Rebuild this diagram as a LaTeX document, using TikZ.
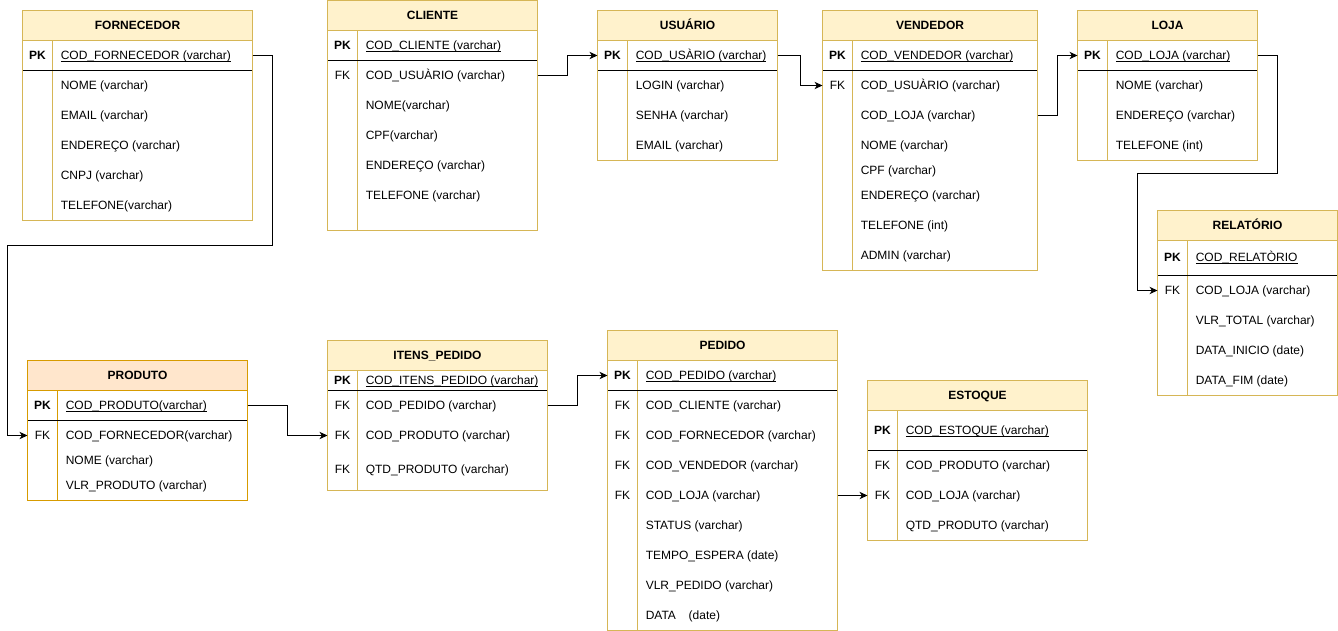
\documentclass[tikz,border=0pt]{standalone}
\usepackage{fontspec}
\setmainfont{Liberation Sans}
\usetikzlibrary{arrows.meta,fit}

\definecolor{tbord}{HTML}{D6B656}
\definecolor{tfill}{HTML}{FFF2CC}
\definecolor{pbord}{HTML}{D79B00}
\definecolor{pfill}{HTML}{FFE6CC}

% underlined primary-key text, rule sitting just under the baseline
\newcommand{\pkul}[1]{\setbox0\hbox{#1}\rlap{\rule[-1.5pt]{\wd0}{0.6pt}}\box0}
\newcommand{\pkey}{\textbf{PK}}

% table frame: name, x1, y1, x2, y2, header bottom, key rule, divider x, title
\newcommand{\ertable}[9]{%
  \node[fit={(#2,#3) (#4,#5)}, inner sep=0pt, outer sep=0pt] (#1) {};
  \fill[hdrfill] (#2,#3) rectangle (#4,#6);
  \draw[tblline] (#2,#6) -- (#4,#6) (#8,#6) -- (#8,#5);
  \draw[pkline] (#2,#7) -- (#4,#7);
  \draw[tblline] (#2,#3) rectangle (#4,#5);
  \node[titletext] (#1-title) at ({(#2+#4)/2},{(#3+#6)/2}) {#9};
  \pgfmathsetmacro\keyx{(#2+#8)/2}%
  \pgfmathsetmacro\fldx{#8+8}%
}
% one row: node name, y, key label, field text
\newcommand{\fld}[4]{%
  \node[keytext] (#1-key) at (\keyx,#2) {#3};
  \node[fldtext] (#1) at (\fldx,#2) {#4};%
}

\begin{document}
\begin{tikzpicture}[x=0.75pt, y=-0.75pt,
  tblline/.style={draw=tbord, line width=0.75pt},
  hdrfill/.style={fill=tfill},
  pkline/.style={draw=black, line width=0.75pt},
  titletext/.style={inner sep=0pt, text height=6.2pt, text depth=0pt,
    font=\fontsize{9}{11}\selectfont\bfseries},
  keytext/.style={inner sep=0pt, text height=6.2pt, text depth=0pt,
    font=\fontsize{9}{11}\selectfont},
  fldtext/.style={anchor=west, inner sep=0pt, text height=6.2pt, text depth=0pt,
    font=\fontsize{9}{11}\selectfont},
  conn/.style={draw=black, line width=0.75pt,
    -{Stealth[length=6pt, width=5.5pt, inset=1.8pt]}}]

\useasboundingbox (0,0) rectangle (1338,631);

% half-unit shift keeps the thin rules on whole pixels
\begin{scope}[shift={(0.5,0.5)}]

% FORNECEDOR
\ertable{forn}{22}{10}{252}{220}{40}{70}{52}{FORNECEDOR}
\fld{forn-pk}{55}{\pkey}{\pkul{COD\_FORNECEDOR (varchar)}}
\fld{forn-f1}{85}{}{NOME (varchar)}
\fld{forn-f2}{115}{}{EMAIL (varchar)}
\fld{forn-f3}{145}{}{ENDEREÇO (varchar)}
\fld{forn-f4}{175}{}{CNPJ (varchar)}
\fld{forn-f5}{205}{}{TELEFONE(varchar)}

% CLIENTE
\ertable{cli}{327}{0}{537}{230}{30}{60}{357}{CLIENTE}
\fld{cli-pk}{45}{\pkey}{\pkul{COD\_CLIENTE (varchar)}}
\fld{cli-f1}{75}{FK}{COD\_USUÀRIO (varchar)}
\fld{cli-f2}{105}{}{NOME(varchar)}
\fld{cli-f3}{135}{}{CPF(varchar)}
\fld{cli-f4}{165}{}{ENDEREÇO (varchar)}
\fld{cli-f5}{195}{}{TELEFONE (varchar)}

% USUARIO
\ertable{usu}{597}{10}{777}{160}{40}{70}{627}{USUÁRIO}
\fld{usu-pk}{55}{\pkey}{\pkul{COD\_USÀRIO (varchar)}}
\fld{usu-f1}{85}{}{LOGIN (varchar)}
\fld{usu-f2}{115}{}{SENHA (varchar)}
\fld{usu-f3}{145}{}{EMAIL (varchar)}

% VENDEDOR
\ertable{vend}{822}{10}{1037}{270}{40}{70}{852}{VENDEDOR}
\fld{vend-pk}{55}{\pkey}{\pkul{COD\_VENDEDOR (varchar)}}
\fld{vend-f1}{85}{FK}{COD\_USUÀRIO (varchar)}
\fld{vend-f2}{115}{}{COD\_LOJA (varchar)}
\fld{vend-f3}{145}{}{NOME (varchar)}
\fld{vend-f4}{170}{}{CPF (varchar)}
\fld{vend-f5}{195}{}{ENDEREÇO (varchar)}
\fld{vend-f6}{225}{}{TELEFONE (int)}
\fld{vend-f7}{255}{}{ADMIN (varchar)}

% LOJA
\ertable{loja}{1077}{10}{1257}{160}{40}{70}{1107}{LOJA}
\fld{loja-pk}{55}{\pkey}{\pkul{COD\_LOJA (varchar)}}
\fld{loja-f1}{85}{}{NOME (varchar)}
\fld{loja-f2}{115}{}{ENDEREÇO (varchar)}
\fld{loja-f3}{145}{}{TELEFONE (int)}

% RELATORIO
\ertable{rel}{1157}{210}{1337}{395}{240}{275}{1187}{RELATÓRIO}
\fld{rel-pk}{257}{\pkey}{\pkul{COD\_RELATÒRIO}}
\fld{rel-f1}{290}{FK}{COD\_LOJA (varchar)}
\fld{rel-f2}{320}{}{VLR\_TOTAL (varchar)}
\fld{rel-f3}{350}{}{DATA\_INICIO (date)}
\fld{rel-f4}{380}{}{DATA\_FIM (date)}

% PRODUTO
\begin{scope}[tblline/.style={draw=pbord, line width=0.75pt}, hdrfill/.style={fill=pfill}]
\ertable{prod}{27}{360}{247}{500}{390}{420}{57}{PRODUTO}
\fld{prod-pk}{405}{\pkey}{\pkul{COD\_PRODUTO(varchar)}}
\fld{prod-f1}{435}{FK}{COD\_FORNECEDOR(varchar)}
\fld{prod-f2}{460}{}{NOME (varchar)}
\fld{prod-f3}{485}{}{VLR\_PRODUTO (varchar)}
\end{scope}

% ITENS_PEDIDO
\ertable{itens}{327}{340}{547}{490}{370}{390}{357}{ITENS\_PEDIDO}
\fld{itens-pk}{380}{\pkey}{\pkul{COD\_ITENS\_PEDIDO (varchar)}}
\fld{itens-f1}{405}{FK}{COD\_PEDIDO (varchar)}
\fld{itens-f2}{435}{FK}{COD\_PRODUTO (varchar)}
\fld{itens-f3}{469}{FK}{QTD\_PRODUTO (varchar)}

% PEDIDO
\ertable{ped}{607}{330}{837}{630}{360}{390}{637}{PEDIDO}
\fld{ped-pk}{375}{\pkey}{\pkul{COD\_PEDIDO (varchar)}}
\fld{ped-f1}{405}{FK}{COD\_CLIENTE (varchar)}
\fld{ped-f2}{435}{FK}{COD\_FORNECEDOR (varchar)}
\fld{ped-f3}{465}{FK}{COD\_VENDEDOR (varchar)}
\fld{ped-f4}{495}{FK}{COD\_LOJA (varchar)}
\fld{ped-f5}{525}{}{STATUS (varchar)}
\fld{ped-f6}{555}{}{TEMPO\_ESPERA (date)}
\fld{ped-f7}{585}{}{VLR\_PEDIDO (varchar)}
\fld{ped-f8}{615}{}{DATA\hspace{9.5pt}(date)}

% ESTOQUE
\ertable{est}{867}{380}{1087}{540}{410}{450}{897}{ESTOQUE}
\fld{est-pk}{430}{\pkey}{\pkul{COD\_ESTOQUE (varchar)}}
\fld{est-f1}{465}{FK}{COD\_PRODUTO (varchar)}
\fld{est-f2}{495}{FK}{COD\_LOJA (varchar)}
\fld{est-f3}{525}{}{QTD\_PRODUTO (varchar)}

% relationships
\draw[conn] (forn.east |- forn-pk) -- ++(20,0) |- (7,245) |- (prod.west |- prod-f1);
\draw[conn] (cli.east |- cli-f1) -- ++(30,0) |- (usu.west |- usu-pk);
\draw[conn] (usu.east |- usu-pk) -- ++(23,0) |- (vend.west |- vend-f1);
\draw[conn] (vend.east |- vend-f2) -- ++(20,0) |- (loja.west |- loja-pk);
\draw[conn] (loja.east |- loja-pk) -- ++(20,0) |- (1137,173) |- (rel.west |- rel-f1);
\draw[conn] (prod.east |- prod-pk) -- ++(40,0) |- (itens.west |- itens-f2);
\draw[conn] (itens.east |- itens-f1) -- ++(30,0) |- (ped.west |- ped-pk);
\draw[conn] (ped.east |- ped-f4) -- (est.west |- est-f2);

\end{scope}
\end{tikzpicture}
\end{document}
